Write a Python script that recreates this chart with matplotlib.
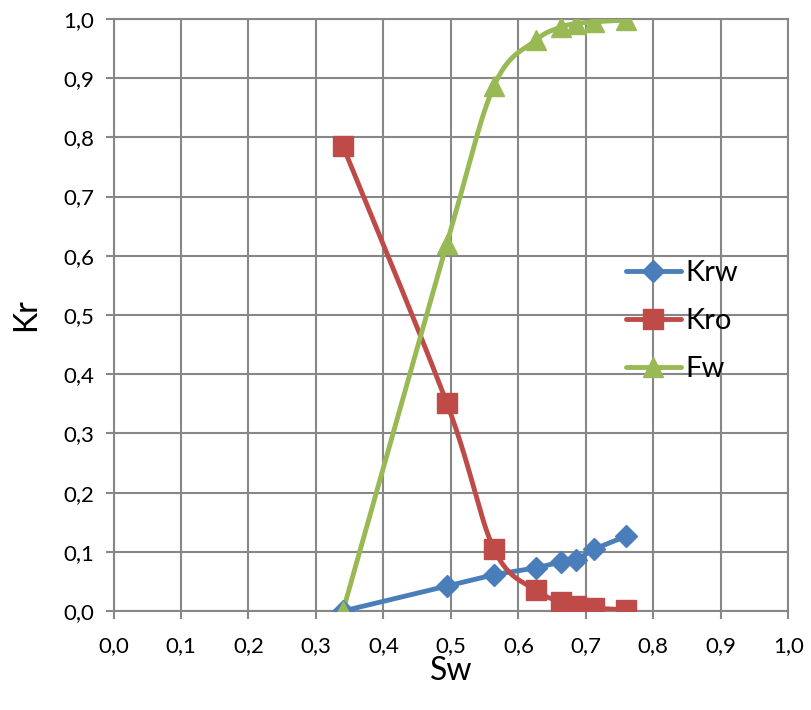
import numpy as np
import matplotlib.pyplot as plt
from matplotlib.ticker import FuncFormatter, MultipleLocator

# Dados
sw = [0.340, 0.494, 0.564, 0.626, 0.663, 0.685, 0.712, 0.759]
krw = [0.000, 0.042, 0.061, 0.073, 0.083, 0.086, 0.104, 0.126]
kro = [0.785, 0.351, 0.104, 0.035, 0.016, 0.008, 0.005, 0.002]
fw = [0.000, 0.620, 0.887, 0.964, 0.986, 0.992, 0.995, 0.998]

cores = {"Krw": "#4A7EBB", "Kro": "#BE4B48", "Fw": "#98B954"}
marcadores = {"Krw": "D", "Kro": "s", "Fw": "^"}
tamanhos = {"Krw": 11, "Kro": 14, "Fw": 14}


def suaviza(x, y, n=30):
    # curva tipo Catmull-Rom (linha suavizada do Excel)
    p = np.column_stack([x, y])
    p = np.vstack([p[0], p, p[-1]])
    pts = []
    for i in range(1, len(p) - 2):
        p0, p1, p2, p3 = p[i - 1], p[i], p[i + 1], p[i + 2]
        c1 = p1 + (p2 - p0) / 6
        c2 = p2 - (p3 - p1) / 6
        t = np.linspace(0, 1, n)[:, None]
        seg = ((1 - t) ** 3) * p1 + 3 * ((1 - t) ** 2) * t * c1 + 3 * (1 - t) * t ** 2 * c2 + t ** 3 * p2
        pts.append(seg)
    pts = np.vstack(pts)
    return pts[:, 0], pts[:, 1]


plt.rcParams["font.family"] = ["Lato", "DejaVu Sans"]

fig = plt.figure(figsize=(8.11, 7.10), dpi=100)
ax = fig.add_axes([0.14, 0.1394, 0.832, 0.834])

for nome, serie in [("Krw", krw), ("Kro", kro), ("Fw", fw)]:
    xs, ys = suaviza(sw, serie)
    ax.plot(xs, ys, color=cores[nome], lw=3.5, solid_capstyle="round", zorder=3)
    ax.plot(sw, serie, ls="none", marker=marcadores[nome], ms=tamanhos[nome],
            color=cores[nome], zorder=4)
    ax.plot([], [], color=cores[nome], lw=3.5, marker=marcadores[nome],
            ms=tamanhos[nome], label=nome, solid_capstyle="round")

ax.set_xlim(0, 1)
ax.set_ylim(0, 1)
ax.xaxis.set_major_locator(MultipleLocator(0.1))
ax.yaxis.set_major_locator(MultipleLocator(0.1))
fmt = FuncFormatter(lambda v, p: f"{v:.1f}".replace(".", ","))
ax.xaxis.set_major_formatter(fmt)
ax.yaxis.set_major_formatter(fmt)

ax.grid(True, color="#878787", lw=1.5)
ax.set_axisbelow(True)
for s in ax.spines.values():
    s.set_color("#878787")
    s.set_linewidth(1.5)
ax.tick_params(axis="both", direction="out", length=6, width=1.5, color="#878787",
               labelsize=16, pad=12)
ax.tick_params(axis="y", pad=8)

ax.set_xlabel("Sw", fontsize=23, labelpad=0)
ax.set_ylabel("Kr", fontsize=23, labelpad=16)

ax.legend(loc="center left", bbox_to_anchor=(0.72, 0.49), frameon=False,
          fontsize=21, handlelength=1.9, labelspacing=0.75, handletextpad=0.15)

plt.savefig("out.png", dpi=100)
